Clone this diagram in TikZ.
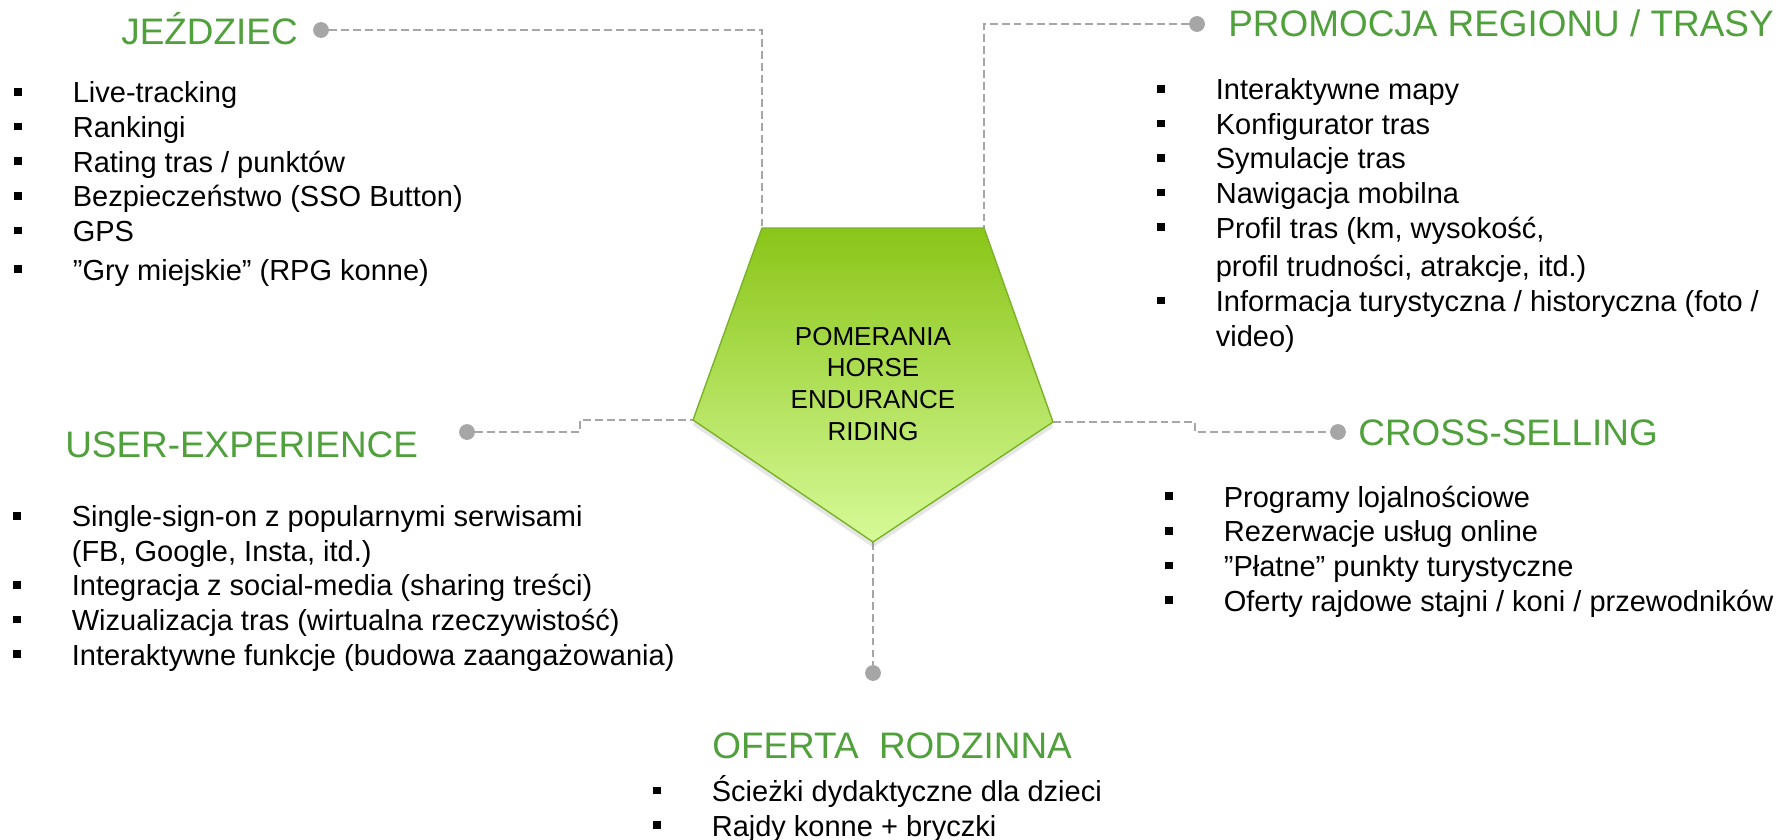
\documentclass[tikz,border=0pt]{standalone}
\usepackage{fontspec}
\setmainfont{Liberation Sans}
\usetikzlibrary{shadows}
\definecolor{titlegreen}{RGB}{80,160,60}
\definecolor{leadergray}{RGB}{166,166,166}
\definecolor{hubtop}{RGB}{138,197,24}
\definecolor{hubbottom}{RGB}{214,250,152}
\definecolor{hubedge}{RGB}{122,178,40}
\newcommand{\sqbul}{\makebox[33.3pt][l]{\rule[4pt]{4.2pt}{4.4pt}}}
\newcommand{\noitem}{\hspace*{33.3pt}}

\begin{document}
\begin{tikzpicture}[x=0.02cm, y=-0.02cm,
	headline/.style={anchor=base west, inner sep=0pt, text=titlegreen, font=\fontsize{21}{25}\selectfont},
	itemlist/.style={anchor=base west, inner sep=0pt, align=left, font=\fontsize{16.5}{19.7}\selectfont},
	enddot/.style={circle, fill=leadergray, inner sep=0pt, minimum size=9pt},
	leader/.style={leadergray, line width=1.6pt, dash pattern=on 4.5pt off 2.3pt}]
	\path[use as bounding box, fill=white] (0,0) rectangle (1781,839);
	% corners of the pentagon
	\coordinate (tl) at (762,228);
	\coordinate (tr) at (984,228);
	\coordinate (rt) at (1053,422);
	\coordinate (bt) at (873,542);
	\coordinate (lt) at (693,420);
	% end dots
	\node[enddot] (jezdot) at (321,30) {};
	\node[enddot] (promdot) at (1197,24) {};
	\node[enddot] (uxdot) at (467,432) {};
	\node[enddot] (csdot) at (1338,432) {};
	\node[enddot] (ofdot) at (873,673) {};
	\draw[leader] (jezdot) -| (tl);
	\draw[leader] (promdot) -| (tr);
	\draw[leader] (uxdot) -- ++(113,0) |- (lt);
	\draw[leader] (rt) -- ++(142,0) |- (csdot);
	\draw[leader] (bt) -- (ofdot);
	% hub
	\draw[hubedge, line width=0.8pt, top color=hubtop, bottom color=hubbottom, drop shadow={opacity=0.2, shadow xshift=0pt, shadow yshift=-3pt}] (tl) -- (tr) -- (rt) -- (bt) -- (lt) -- cycle;
	\node[align=center, inner sep=0pt, anchor=base, font=\fontsize{14.8}{18}\selectfont] (hubtext) at (873,440) {POMERANIA\\HORSE\\ENDURANCE\\RIDING};
	% titles
	\node[headline] (jeztitle) at (121,44) {JEŹDZIEC};
	\node[headline] (promtitle) at (1228,36) {PROMOCJA REGIONU / TRASY};
	\node[headline] (uxtitle) at (65,457) {USER-EXPERIENCE};
	\node[headline] (cstitle) at (1358,445) {CROSS-SELLING};
	\node[headline] (oftitle) at (712,758) {OFERTA\ \ RODZINNA};
	% lists (anchored at the last line)
	\node[itemlist] (jezlist) at (14,280) {\sqbul Live-tracking\\ \sqbul Rankingi\\ \sqbul Rating tras / punktów\\ \sqbul Bezpieczeństwo (SSO Button)\\ \sqbul GPS\\[2.3pt] \sqbul ”Gry miejskie” (RPG konne)};
	\node[itemlist] (promlist) at (1157,346) {\sqbul Interaktywne mapy\\ \sqbul Konfigurator tras\\ \sqbul Symulacje tras\\ \sqbul Nawigacja mobilna\\ \sqbul Profil tras (km, wysokość,\\[2.3pt] \noitem profil trudności, atrakcje, itd.)\\ \sqbul Informacja turystyczna / historyczna (foto /\\ \noitem video)};
	\node[itemlist] (uxlist) at (13,665) {\sqbul Single-sign-on z popularnymi serwisami\\ \noitem (FB, Google, Insta, itd.)\\ \sqbul Integracja z social-media (sharing treści)\\ \sqbul Wizualizacja tras (wirtualna rzeczywistość)\\ \sqbul Interaktywne funkcje (budowa zaangażowania)};
	\node[itemlist] (cslist) at (1165,611) {\sqbul Programy lojalnościowe\\ \sqbul Rezerwacje usług online\\ \sqbul ”Płatne” punkty turystyczne\\ \sqbul Oferty rajdowe stajni / koni / przewodników};
	\node[itemlist] (oflist) at (653,836) {\sqbul Ścieżki dydaktyczne dla dzieci\\ \sqbul Rajdy konne + bryczki};
\end{tikzpicture}
\end{document}
